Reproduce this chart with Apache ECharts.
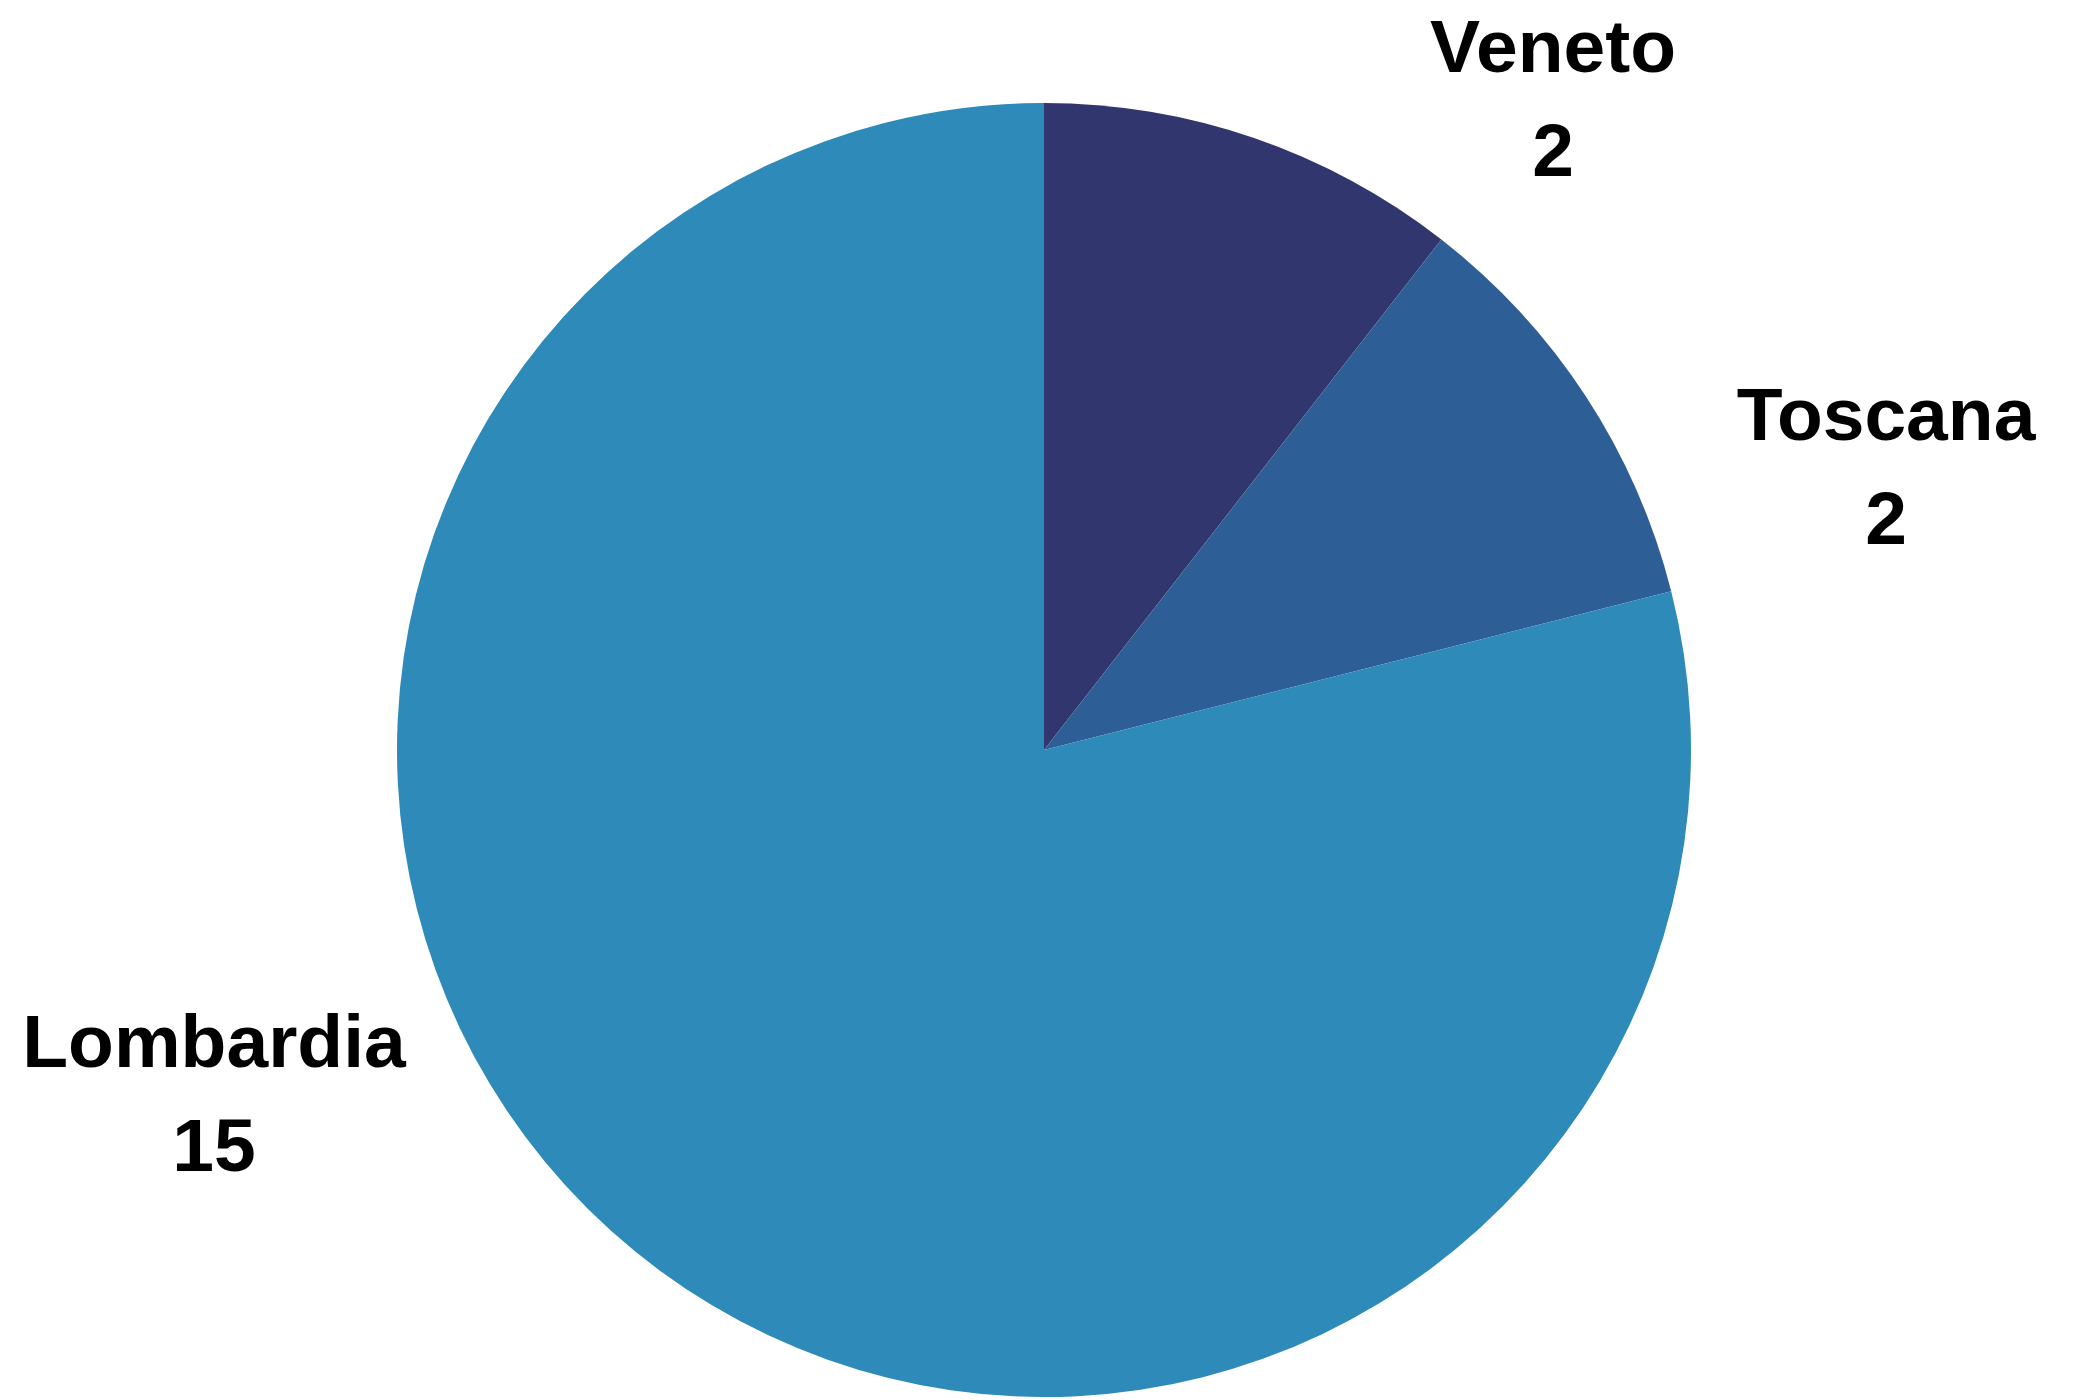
<!DOCTYPE html>
<html>
<head>
<meta charset="utf-8">
<script src="https://cdn.jsdelivr.net/npm/echarts@6/dist/echarts.min.js"></script>
<style>
  html, body { margin: 0; padding: 0; background: #ffffff; }
  #chart { width: 2074px; height: 1400px; }
</style>
</head>
<body>
<div id="chart"></div>
<script>
// Data
const regions = ['Veneto', 'Toscana', 'Lombardia'];
const counts = [2, 2, 15];
const sliceColors = ['#32366E', '#2E5E96', '#2E8AB8'];
// Label anchor positions (layout only)
const labelAnchors = [[1553, 103], [1886, 471], [214, 1098]];

const chart = echarts.init(document.getElementById('chart'), null, { renderer: 'canvas' });
chart.setOption({
  animation: false,
  backgroundColor: '#ffffff',
  series: [{
    type: 'pie',
    center: [1044, 750],
    radius: [0, 647],
    startAngle: 90,
    clockwise: true,
    avoidLabelOverlap: false,
    itemStyle: { borderWidth: 0 },
    emphasis: { disabled: true },
    label: {
      show: true,
      position: 'outside',
      formatter: '{b}\n{c}',
      fontFamily: 'Liberation Sans, Arial, sans-serif',
      fontWeight: 'bold',
      fontSize: 75,
      lineHeight: 104,
      color: '#000000',
      align: 'center'
    },
    labelLine: { show: false },
    labelLayout: function (params) {
      const p = labelAnchors[params.dataIndex];
      return { x: p[0], y: p[1], align: 'center', verticalAlign: 'middle' };
    },
    data: regions.map((r, i) => ({ name: r, value: counts[i], itemStyle: { color: sliceColors[i] } }))
  }]
});
</script>
</body>
</html>
